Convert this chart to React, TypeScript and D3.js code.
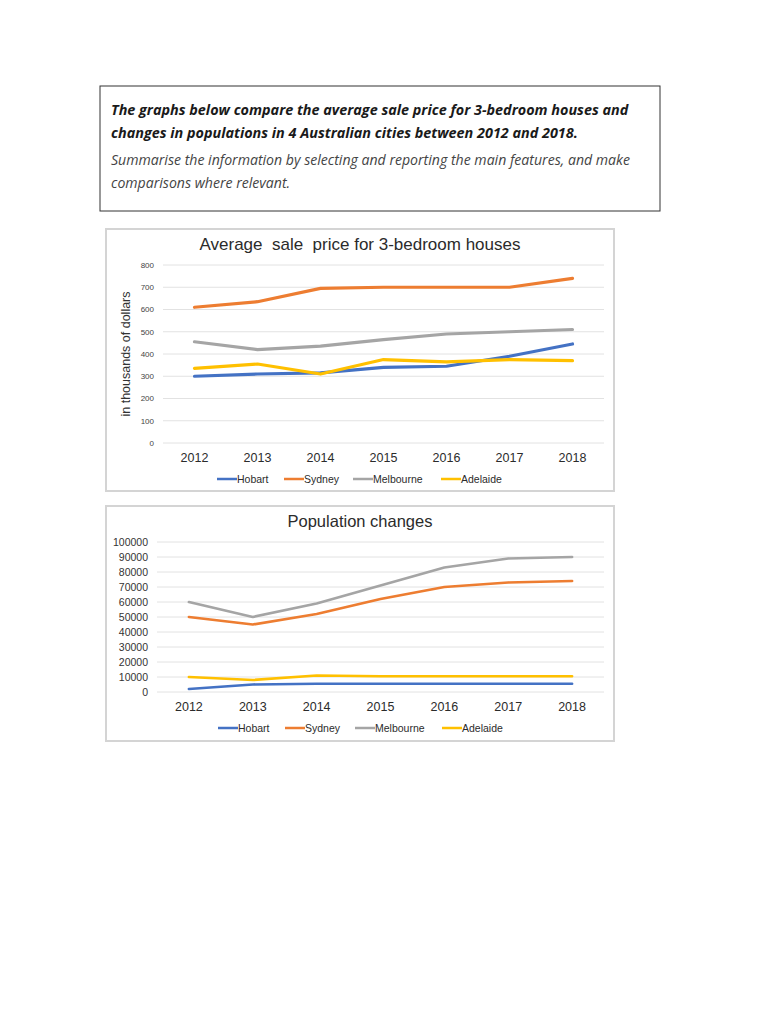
import React from "react";
import * as d3 from "d3";

const YEARS = ["2012", "2013", "2014", "2015", "2016", "2017", "2018"];
const CITIES = ["Hobart", "Sydney", "Melbourne", "Adelaide"];
const CITY_COLORS = ["#4472C4", "#ED7D31", "#A5A5A5", "#FFC000"];

// average sale price, thousands of dollars
const PRICE_HOBART = [300, 310, 315, 340, 345, 390, 445];
const PRICE_SYDNEY = [610, 635, 695, 700, 700, 700, 740];
const PRICE_MELBOURNE = [455, 420, 435, 465, 490, 500, 510];
const PRICE_ADELAIDE = [335, 355, 310, 375, 365, 375, 370];
const PRICE_TICKS = [0, 100, 200, 300, 400, 500, 600, 700, 800];

// population changes
const POP_HOBART = [2000, 5000, 5500, 5500, 5500, 5500, 5500];
const POP_SYDNEY = [50000, 45000, 52000, 62000, 70000, 73000, 74000];
const POP_MELBOURNE = [60000, 50000, 59000, 71000, 83000, 89000, 90000];
const POP_ADELAIDE = [10000, 8000, 11000, 10500, 10500, 10500, 10500];
const POP_TICKS = [0, 10000, 20000, 30000, 40000, 50000, 60000, 70000, 80000, 90000, 100000];

const FONT = "Liberation Sans, Arial, sans-serif";

type ChartProps = {
  box: { x: number; y: number; w: number; h: number };
  plot: { l: number; r: number; t: number; b: number };
  title: string;
  titleY: number;
  titleSize: number;
  series: number[][];
  ticks: number[];
  yMax: number;
  tickSize: number;
  tickColor: string;
  xLabelY: number;
  legendY: number;
  legendX: number[];
  yAxisLabel?: string;
  strokeW: number;
};

const LineChart: React.FC<ChartProps> = (p) => {
  const x = d3.scaleBand<string>().domain(YEARS).range([p.plot.l, p.plot.r]);
  const y = d3.scaleLinear().domain([0, p.yMax]).range([p.plot.b, p.plot.t]);
  const line = d3
    .line<number>()
    .x((_, i) => (x(YEARS[i]) ?? 0) + x.bandwidth() / 2)
    .y((d) => y(d));
  const cx = p.box.x + p.box.w / 2;
  return (
    <g fontFamily={FONT}>
      <rect
        x={p.box.x}
        y={p.box.y}
        width={p.box.w}
        height={p.box.h}
        fill="#fff"
        stroke="#d4d4d4"
        strokeWidth={2}
      />
      <text
        x={cx}
        y={p.titleY}
        textAnchor="middle"
        fontSize={p.titleSize}
        fill="#2b2b2b"
        style={{ whiteSpace: "pre" }}
      >
        {p.title}
      </text>
      {p.ticks.map((t) => (
        <g key={t}>
          <line x1={p.plot.l} x2={p.plot.r} y1={y(t)} y2={y(t)} stroke="#e2e2e2" strokeWidth={1} />
          <text
            x={p.plot.l - 9}
            y={y(t)}
            dy="0.35em"
            textAnchor="end"
            fontSize={p.tickSize}
            fill={p.tickColor}
          >
            {t}
          </text>
        </g>
      ))}
      {p.yAxisLabel && (
        <text
          transform={`translate(${p.box.x + 24},${(p.plot.t + p.plot.b) / 2}) rotate(-90)`}
          textAnchor="middle"
          fontSize={12.5}
          fill="#333"
        >
          {p.yAxisLabel}
        </text>
      )}
      {YEARS.map((yr) => (
        <text
          key={yr}
          x={(x(yr) ?? 0) + x.bandwidth() / 2}
          y={p.xLabelY}
          textAnchor="middle"
          fontSize={12.5}
          fill="#2b2b2b"
        >
          {yr}
        </text>
      ))}
      {p.series.map((s, i) => (
        <path
          key={CITIES[i]}
          d={line(s) ?? ""}
          fill="none"
          stroke={CITY_COLORS[i]}
          strokeWidth={p.strokeW}
          strokeLinejoin="round"
          strokeLinecap="round"
        />
      ))}
      {CITIES.map((c, i) => (
        <g key={c}>
          <line
            x1={p.legendX[i]}
            x2={p.legendX[i] + 20}
            y1={p.legendY}
            y2={p.legendY}
            stroke={CITY_COLORS[i]}
            strokeWidth={2.5}
          />
          <text x={p.legendX[i] + 20} y={p.legendY} dy="0.35em" fontSize={10.5} fill="#2b2b2b">
            {c}
          </text>
        </g>
      ))}
    </g>
  );
};

export default function App() {
  return (
    <svg
      width={768}
      height={1024}
      style={{ position: "absolute", left: 0, top: 0, background: "#fff" }}
    >
      <rect x={100} y={86} width={560} height={125} fill="#fff" stroke="#333" strokeWidth={1} />
      <g fontFamily="Open Sans, Noto Sans, sans-serif" fontStyle="italic">
        <text x={111} y={115} fontSize={14.4} fontWeight="bold" fill="#1a1a1a">
          The graphs below compare the average sale price for 3-bedroom houses and
        </text>
        <text x={111} y={138} fontSize={14.4} fontWeight="bold" fill="#1a1a1a">
          changes in populations in 4 Australian cities between 2012 and 2018.
        </text>
        <text x={111} y={165} fontSize={14.1} fill="#444">
          Summarise the information by selecting and reporting the main features, and make
        </text>
        <text x={111} y={188} fontSize={14.1} fill="#444">
          comparisons where relevant.
        </text>
      </g>

      <LineChart
        box={{ x: 106, y: 229, w: 508, h: 262 }}
        plot={{ l: 163, r: 604, t: 265, b: 443 }}
        title="Average  sale  price for 3-bedroom houses"
        titleY={250}
        titleSize={17}
        series={[PRICE_HOBART, PRICE_SYDNEY, PRICE_MELBOURNE, PRICE_ADELAIDE]}
        ticks={PRICE_TICKS}
        yMax={800}
        tickSize={8}
        tickColor="#444"
        xLabelY={462}
        legendY={479}
        legendX={[217, 284, 353, 441]}
        yAxisLabel="in thousands of dollars"
        strokeW={3.2}
      />

      <LineChart
        box={{ x: 106, y: 506, w: 508, h: 235 }}
        plot={{ l: 157, r: 604, t: 542, b: 692 }}
        title="Population changes"
        titleY={527}
        titleSize={16.5}
        series={[POP_HOBART, POP_SYDNEY, POP_MELBOURNE, POP_ADELAIDE]}
        ticks={POP_TICKS}
        yMax={100000}
        tickSize={10.5}
        tickColor="#333"
        xLabelY={711}
        legendY={728}
        legendX={[218, 285, 355, 442]}
        strokeW={2.7}
      />
    </svg>
  );
}
